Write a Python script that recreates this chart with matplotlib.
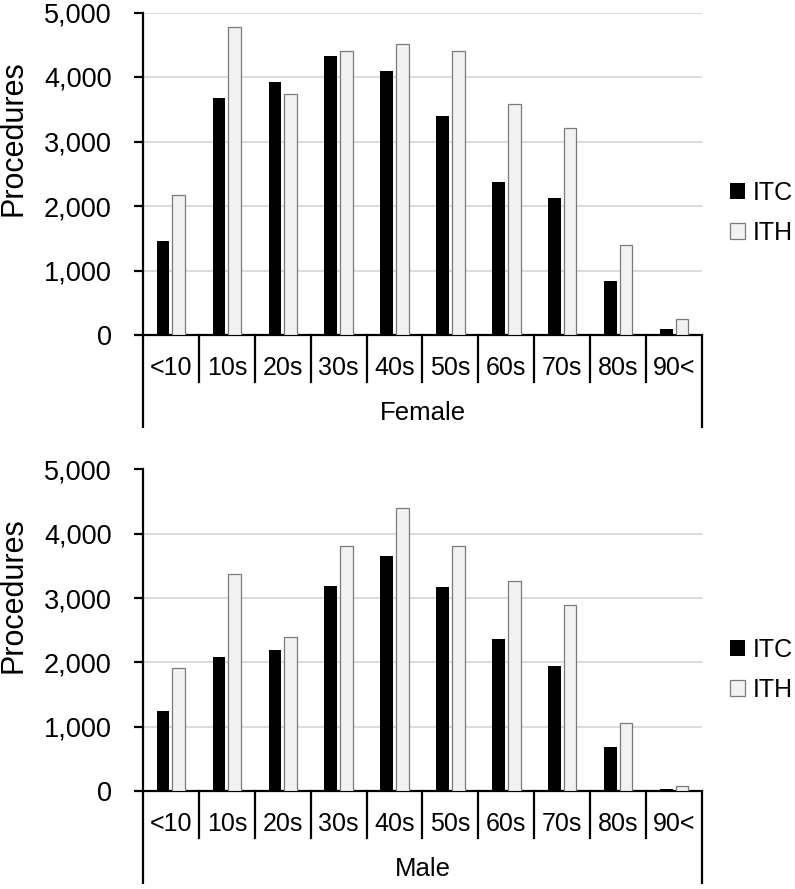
import matplotlib
matplotlib.use("Agg")
import matplotlib.pyplot as plt
import matplotlib.ticker as mticker
import numpy as np

plt.rcParams['font.family'] = ['Liberation Sans', 'DejaVu Sans']

age_groups = ["<10", "10s", "20s", "30s", "40s", "50s", "60s", "70s", "80s", "90<"]
series_names = ["ITC", "ITH"]

itc_female = [1460, 3680, 3920, 4320, 4090, 3390, 2370, 2120, 840, 100]
ith_female = [2170, 4780, 3730, 4410, 4510, 4410, 3580, 3210, 1390, 250]

itc_male = [1250, 2080, 2190, 3190, 3660, 3170, 2360, 1950, 680, 25]
ith_male = [1920, 3380, 2390, 3810, 4400, 3810, 3260, 2900, 1050, 80]

W, H = 795, 889
fig = plt.figure(figsize=(W / 100, H / 100), dpi=100)

LW = 1.6


def draw_panel(ax, itc, ith, group_label, legend_y):
    x = np.arange(len(age_groups))
    b1 = ax.bar(x - 0.141, itc, width=0.227, color="black", edgecolor="none",
                label=series_names[0], zorder=3)
    b2 = ax.bar(x + 0.141, ith, width=0.227, color="#f2f2f2", edgecolor="#7a7a7a",
                linewidth=0.9, label=series_names[1], zorder=3)

    ax.set_xlim(-0.5, len(age_groups) - 0.5)
    ax.set_ylim(0, 5000)
    ax.set_yticks(range(0, 5001, 1000))
    ax.yaxis.set_major_formatter(mticker.FuncFormatter(lambda v, p: f"{int(v):,}"))
    ax.yaxis.grid(True, color="#d9d9d9", linewidth=1.3)
    ax.set_axisbelow(True)

    for s in ["top", "right"]:
        ax.spines[s].set_visible(False)
    ax.spines["left"].set_linewidth(LW)
    ax.spines["bottom"].set_linewidth(LW)

    ax.set_xticks([])
    ax.tick_params(axis="y", direction="out", length=6.5, width=LW,
                   labelsize=19.5, pad=16)

    ## y title placed by its centre, a bit above the middle like the original
    ax.text(-0.231, 0.609, "Procedures", transform=ax.transAxes, rotation=90,
            ha="center", va="center", fontsize=22)

    ## category labels and separators below the axis
    trans = ax.get_xaxis_transform()
    ax_h = ax.get_position().height * H
    sep = -47 / ax_h
    outer = -93 / ax_h
    for i, lab in enumerate(age_groups):
        ax.text(i, -33 / ax_h, lab, transform=trans, ha="center", va="center",
                fontsize=18)
    for i in range(1, len(age_groups)):
        ax.plot([i - 0.5, i - 0.5], [0, sep], transform=trans, color="black",
                lw=LW, clip_on=False)
    for xx in [-0.5, len(age_groups) - 0.5]:
        ax.plot([xx, xx], [0, outer], transform=trans, color="black",
                lw=LW, clip_on=False, solid_capstyle="butt")
    ax.text(0.5, -78 / ax_h, group_label, transform=ax.transAxes, ha="center",
            va="center", fontsize=18.5)

    ax.legend(handles=[b1, b2], loc="center left", frameon=False,
              bbox_to_anchor=(730 / W, legend_y), bbox_transform=fig.transFigure,
              borderpad=0, borderaxespad=0, handlelength=0.6, handleheight=0.6,
              handletextpad=0.3, labelspacing=0.65, fontsize=18)


ax_top = fig.add_axes([143 / W, 1 - 335 / H, (702 - 143) / W, (335 - 12.5) / H])
ax_bot = fig.add_axes([143 / W, 1 - 791 / H, (702 - 143) / W, (791 - 469.5) / H])

draw_panel(ax_top, itc_female, ith_female, "Female", 1 - 213 / H)
draw_panel(ax_bot, itc_male, ith_male, "Male", 1 - 670 / H)

fig.savefig("out.png", dpi=100)
